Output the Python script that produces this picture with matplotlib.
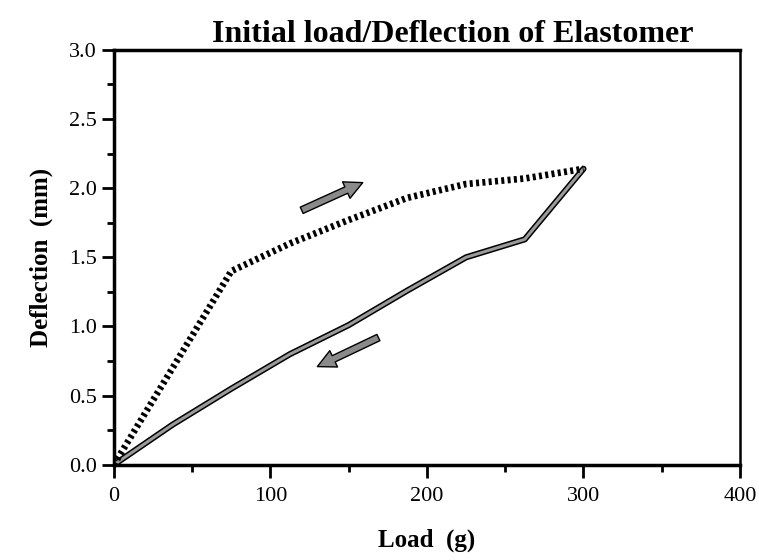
import matplotlib
matplotlib.use("Agg")
import matplotlib.pyplot as plt
import matplotlib.patheffects as pe
from matplotlib.ticker import MultipleLocator

# loading (dotted) and unloading (solid) curves
load_up = [0, 75, 112.5, 150, 187.5, 225, 262.5, 300]
defl_up = [0.0, 1.40, 1.60, 1.77, 1.93, 2.03, 2.07, 2.14]
load_down = [300, 262.5, 225, 187.5, 150, 112.5, 75, 37.5, 0]
defl_down = [2.14, 1.63, 1.50, 1.26, 1.01, 0.80, 0.55, 0.29, 0.0]

xticks = [0, 100, 200, 300, 400]
yticks = [0.0, 0.5, 1.0, 1.5, 2.0, 2.5, 3.0]

serif = ["Liberation Serif", "DejaVu Serif"]

fig = plt.figure(figsize=(7.59, 5.6), dpi=100)
ax = fig.add_axes([0.150, 0.170, 0.825, 0.741])

ax.plot(load_down, defl_down, color="#9a9a9a", lw=2.2, solid_capstyle="round",
        path_effects=[pe.Stroke(linewidth=4.4, foreground="black"), pe.Normal()],
        zorder=3)
ax.plot(load_up, defl_up, color="black", lw=4.8, linestyle=(0, (0.45, 0.5)),
        zorder=4)

arrow = dict(arrowstyle="simple,head_length=1.3,head_width=1.3,tail_width=0.5",
             fc="#8a8a8a", ec="black", lw=1.0, shrinkA=0, shrinkB=0)
ax.annotate("", xy=(159, 2.04), xytext=(120, 1.84), arrowprops=arrow)
ax.annotate("", xy=(130, 0.71), xytext=(169, 0.92), arrowprops=arrow)

ax.set_xlim(0, 400)
ax.set_ylim(0, 3.0)
ax.set_xticks(xticks)
ax.set_yticks(yticks)
ax.set_xticklabels([str(t) for t in xticks])
ax.set_yticklabels([f"{t:.1f}" for t in yticks])
ax.xaxis.set_minor_locator(MultipleLocator(50))
ax.yaxis.set_minor_locator(MultipleLocator(0.25))
ax.tick_params(which="major", direction="out", length=9, width=2)
ax.tick_params(which="minor", direction="out", length=5, width=2)
ax.tick_params(axis="x", which="both", pad=7)
ax.tick_params(axis="y", which="both", pad=3)
for lab in ax.get_xticklabels() + ax.get_yticklabels():
    lab.set_family(serif)
    lab.set_fontsize(16)

for side in ["left", "bottom", "top"]:
    ax.spines[side].set_linewidth(2.5)
ax.spines["right"].set_linewidth(1.8)

ax.set_xlabel("Load  (g)", family=serif, fontsize=18, fontweight="bold", labelpad=16)
ax.set_ylabel("Deflection  (mm)", family=serif, fontsize=18, fontweight="bold", labelpad=12)
fig.text(0.596, 0.938, "Initial load/Deflection of Elastomer", family=serif,
         fontsize=23, fontweight="bold", ha="center", va="center")

fig.savefig("out.png", dpi=100)
